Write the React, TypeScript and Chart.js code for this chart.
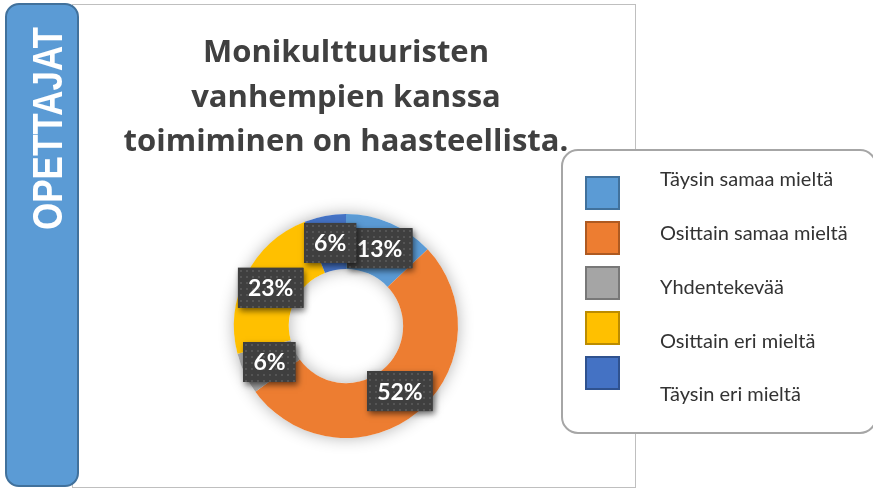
import React, { useEffect, useRef } from 'react';
import { Chart, registerables } from 'chart.js';

Chart.register(...registerables);

const CATEGORIES = ['Täysin samaa mieltä', 'Osittain samaa mieltä', 'Yhdentekevää', 'Osittain eri mieltä', 'Täysin eri mieltä'];
const PERCENTAGES = [13, 52, 6, 23, 6];
const SLICE_COLORS = ['#5B9BD5', '#ED7D31', '#A5A5A5', '#FFC000', '#4472C4'];
const SLICE_EDGE_COLORS = ['#41719C', '#AE5A21', '#787878', '#BC8C00', '#2F528F'];
const TITLE_LINES = ['Monikulttuuristen', 'vanhempien kanssa', 'toimiminen on haasteellista.'];
const SIDE_LABEL = 'OPETTAJAT';

const W = 873;
const H = 489;

function roundRectPath(ctx: CanvasRenderingContext2D, x: number, y: number, w: number, h: number, r: number) {
  ctx.beginPath();
  ctx.moveTo(x + r, y);
  ctx.lineTo(x + w - r, y);
  ctx.arcTo(x + w, y, x + w, y + r, r);
  ctx.lineTo(x + w, y + h - r);
  ctx.arcTo(x + w, y + h, x + w - r, y + h, r);
  ctx.lineTo(x + r, y + h);
  ctx.arcTo(x, y + h, x, y + h - r, r);
  ctx.lineTo(x, y + r);
  ctx.arcTo(x, y, x + r, y, r);
  ctx.closePath();
}

const backgroundPlugin = {
  id: 'bgFrame',
  beforeDraw(chart: any) {
    const ctx: CanvasRenderingContext2D = chart.ctx;
    ctx.save();
    // chart frame
    ctx.fillStyle = '#ffffff';
    ctx.fillRect(72, 4, 564, 484);
    ctx.strokeStyle = '#BFBFBF';
    ctx.lineWidth = 1;
    ctx.strokeRect(72.5, 4.5, 563, 483);
    // side banner
    roundRectPath(ctx, 6, 4, 72, 482, 13);
    ctx.fillStyle = '#5B9BD5';
    ctx.fill();
    ctx.strokeStyle = '#41719C';
    ctx.lineWidth = 2;
    ctx.stroke();
    // banner text
    ctx.font = 'bold 42px "Liberation Sans", Arial, sans-serif';
    const tw = ctx.measureText(SIDE_LABEL).width;
    const sx = 203 / tw;
    ctx.translate(47, 128.5);
    ctx.rotate(-Math.PI / 2);
    ctx.scale(sx, 1);
    ctx.fillStyle = '#ffffff';
    ctx.textAlign = 'center';
    ctx.textBaseline = 'alphabetic';
    ctx.fillText(SIDE_LABEL, 0, 15);
    ctx.restore();
  },
};

const ringShadowPlugin = {
  id: 'ringShadow',
  beforeDatasetsDraw(chart: any) {
    const meta = chart.getDatasetMeta(0);
    if (!meta || !meta.data.length) return;
    const arc = meta.data[0];
    const { x, y, innerRadius, outerRadius } = arc.getProps(['x', 'y', 'innerRadius', 'outerRadius'], true);
    const ctx: CanvasRenderingContext2D = chart.ctx;
    ctx.save();
    ctx.shadowColor = 'rgba(0,0,0,0.30)';
    ctx.shadowBlur = 16;
    ctx.beginPath();
    ctx.arc(x, y, outerRadius, 0, Math.PI * 2);
    ctx.arc(x, y, innerRadius, 0, Math.PI * 2, true);
    ctx.closePath();
    ctx.fillStyle = '#ffffff';
    ctx.fill();
    ctx.restore();
  },
};

let dotPattern: CanvasPattern | null = null;
function getPattern(ctx: CanvasRenderingContext2D) {
  if (dotPattern) return dotPattern;
  const c = document.createElement('canvas');
  c.width = 6;
  c.height = 6;
  const p = c.getContext('2d')!;
  p.fillStyle = '#3F3F3F';
  p.fillRect(0, 0, 6, 6);
  p.fillStyle = '#555555';
  p.fillRect(2, 2, 2, 2);
  dotPattern = ctx.createPattern(c, 'repeat');
  return dotPattern;
}

const labelPlugin = {
  id: 'boxLabels',
  afterDatasetsDraw(chart: any) {
    const ctx: CanvasRenderingContext2D = chart.ctx;
    const meta = chart.getDatasetMeta(0);
    const values: number[] = chart.data.datasets[0].data;
    const total = values.reduce((a, b) => a + b, 0);
    ctx.save();
    ctx.font = 'bold 23px Lato, "Open Sans", sans-serif';
    meta.data.forEach((arc: any, i: number) => {
      const text = Math.round((values[i] / total) * 100) + '%';
      const pos = arc.getCenterPoint(true);
      const tw = ctx.measureText(text).width;
      const bw = tw + 20;
      const bh = 40;
      const bx = pos.x - bw / 2;
      const by = pos.y - bh / 2;
      ctx.save();
      ctx.shadowColor = 'rgba(0,0,0,0.55)';
      ctx.shadowBlur = 6;
      ctx.shadowOffsetX = 2;
      ctx.shadowOffsetY = 3;
      ctx.fillStyle = '#404040';
      ctx.fillRect(bx, by, bw, bh);
      ctx.restore();
      ctx.save();
      ctx.translate(Math.round(bx), Math.round(by));
      ctx.fillStyle = getPattern(ctx) as any;
      ctx.fillRect(0, 0, bw, bh);
      ctx.restore();
      ctx.fillStyle = '#ffffff';
      ctx.textAlign = 'center';
      ctx.textBaseline = 'middle';
      ctx.fillText(text, pos.x, pos.y + 1);
    });
    ctx.restore();
  },
};

const legendPlugin = {
  id: 'boxLegend',
  afterDraw(chart: any) {
    const ctx: CanvasRenderingContext2D = chart.ctx;
    const labels: string[] = chart.data.labels;
    const ds = chart.data.datasets[0];
    ctx.save();
    roundRectPath(ctx, 562, 150, 314, 283, 16);
    ctx.fillStyle = '#ffffff';
    ctx.fill();
    ctx.strokeStyle = '#A6A6A6';
    ctx.lineWidth = 2;
    ctx.stroke();
    const boxTop = 177;
    const boxStep = 45;
    const textMid = 180;
    const textStep = 53.75;
    ctx.font = '20px Lato, "Open Sans", sans-serif';
    ctx.textBaseline = 'middle';
    ctx.textAlign = 'left';
    labels.forEach((lab, i) => {
      const by = boxTop + i * boxStep;
      ctx.fillStyle = ds.backgroundColor[i];
      ctx.fillRect(586, by, 33, 32);
      ctx.strokeStyle = SLICE_EDGE_COLORS[i];
      ctx.lineWidth = 2;
      ctx.strokeRect(586, by, 33, 32);
      ctx.fillStyle = '#333333';
      ctx.fillText(lab, 660, textMid + i * textStep);
    });
    ctx.restore();
  },
};

export default function App() {
  const ref = useRef<HTMLCanvasElement | null>(null);
  useEffect(() => {
    document.body.style.margin = '0';
    const canvas = ref.current!;
    const chart = new Chart(canvas, {
      type: 'doughnut',
      data: {
        labels: CATEGORIES,
        datasets: [
          {
            data: PERCENTAGES,
            backgroundColor: SLICE_COLORS,
            borderWidth: 0,
          },
        ],
      },
      options: {
        animation: false,
        responsive: false,
        events: [],
        cutout: '51%',
        layout: { padding: { left: 115, right: 296, top: 7, bottom: 51 } },
        plugins: {
          legend: { display: false },
          tooltip: { enabled: false },
          title: {
            display: true,
            text: TITLE_LINES,
            color: '#404040',
            font: { family: '"Open Sans", Lato, sans-serif', size: 31, weight: 'bold', lineHeight: 44.5 / 31 },
            padding: { top: 24, bottom: 49.5 },
          },
        },
      },
      plugins: [backgroundPlugin, ringShadowPlugin, labelPlugin, legendPlugin],
    });
    return () => chart.destroy();
  }, []);
  return (
    <div style={{ position: 'absolute', left: 0, top: 0, width: W, height: H }}>
      <canvas ref={ref} width={W} height={H} style={{ display: 'block', width: W, height: H }} />
    </div>
  );
}
